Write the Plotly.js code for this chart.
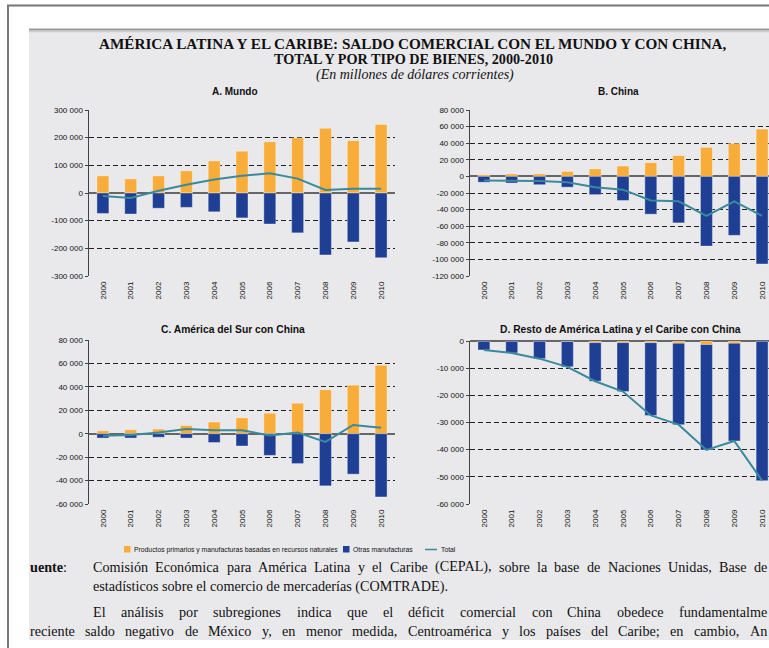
<!DOCTYPE html>
<html>
<head>
<meta charset="utf-8">
<script src="https://cdn.plot.ly/plotly-3.0.1.min.js"></script>
<style>
html,body{margin:0;padding:0;background:#fff;overflow:hidden;width:769px;height:648px;}
#chart{width:800px;height:648px;}
</style>
</head>
<body>
<div id="chart"></div>
<script>
// ---------------- DATA ----------------
var years = ['2000','2001','2002','2003','2004','2005','2006','2007','2008','2009','2010'];

// A. Mundo
var mundoPrim  = [62000, 51000, 62000, 80000, 116000, 151000, 185000, 199000, 234000, 189000, 248000];
var mundoOtras = [-74000, -76000, -55000, -52000, -68000, -90000, -112000, -144000, -224000, -177000, -234000];
var mundoTotal = [-11000, -18000, 8000, 30000, 49000, 62000, 71000, 52000, 11000, 15000, 15000];

// B. China
var chinaPrim  = [2000, 3000, 3000, 6000, 9000, 12500, 16500, 25000, 35000, 39500, 57000];
var chinaOtras = [-7000, -8000, -10000, -13000, -22000, -29000, -45500, -56000, -84000, -71000, -105500];
var chinaTotal = [-5000, -5500, -5500, -7000, -13000, -16000, -29000, -30000, -47500, -30000, -47500];

// C. América del Sur con China
var surPrim  = [2500, 3400, 4000, 7000, 10000, 13500, 17500, 26000, 37500, 41500, 58500];
var surOtras = [-3700, -3700, -3000, -3700, -7500, -10500, -18500, -25500, -44500, -34500, -54000];
var surTotal = [-1700, -1000, 1000, 4000, 3000, 3000, -1500, 1000, -7000, 7500, 5000];

// D. Resto de América Latina y el Caribe con China
var restoPrim  = [-100, -100, -100, -200, -600, -600, -600, -800, -1300, -800, -100];
var restoOtras = [-3200, -4300, -6400, -9300, -14200, -18000, -26800, -30000, -38800, -36000, -51300];
var restoTotal = [-3300, -4400, -6500, -9500, -14800, -18600, -27400, -30800, -40100, -36800, -51400];

// Tick values / labels
var ticksA = [-300000, -200000, -100000, 0, 100000, 200000, 300000];
var labelsA = ['-300 000', '-200 000', '-100 000', '0', '100 000', '200 000', '300 000'];
var ticksB = [-120000, -100000, -80000, -60000, -40000, -20000, 0, 20000, 40000, 60000, 80000];
var labelsB = ['-120 000', '-100 000', '-80 000', '-60 000', '-40 000', '-20 000', '0', '20 000', '40 000', '60 000', '80 000'];
var ticksC = [-60000, -40000, -20000, 0, 20000, 40000, 60000, 80000];
var labelsC = ['-60 000', '-40 000', '-20 000', '0', '20 000', '40 000', '60 000', '80 000'];
var ticksD = [-60000, -50000, -40000, -30000, -20000, -10000, 0];
var labelsD = ['-60 000', '-50 000', '-40 000', '-30 000', '-20 000', '-10 000', '0'];

var seriesNames = ['Productos primarios y manufacturas basadas en recursos naturales', 'Otras manufacturas', 'Total'];
var panelTitles = ['A. Mundo', 'B. China', 'C. América del Sur con China', 'D. Resto de América Latina y el Caribe con China'];

// ---------------- STYLE ----------------
var W = 800, H = 648;
function px(x){ return x / W; }
function py(y){ return 1 - y / H; }
var ORANGE = '#f8ac39', BLUE = '#1f3f95', TEAL = '#3a8a9c';
var sans = 'Liberation Sans, Arial, sans-serif';
var serif = 'Liberation Serif, Times New Roman, serif';

var panels = [
  {prim: mundoPrim, otras: mundoOtras, total: mundoTotal, ticks: ticksA, labels: labelsA, range: [-300000, 300000], x: [89, 395], y: [110, 276]},
  {prim: chinaPrim, otras: chinaOtras, total: chinaTotal, ticks: ticksB, labels: labelsB, range: [-120000, 80000], x: [470, 776], y: [110, 276]},
  {prim: surPrim, otras: surOtras, total: surTotal, ticks: ticksC, labels: labelsC, range: [-60000, 80000], x: [89, 395], y: [340, 504]},
  {prim: restoPrim, otras: restoOtras, total: restoTotal, ticks: ticksD, labels: labelsD, range: [-60000, 0], x: [470, 776], y: [341, 504]}
];

var data = [];
var layout = {
  width: W, height: H,
  margin: {l: 0, r: 0, t: 0, b: 0},
  paper_bgcolor: '#ffffff',
  plot_bgcolor: 'rgba(0,0,0,0)',
  barmode: 'relative',
  bargap: 0.57,
  showlegend: false,
  font: {family: sans, color: '#111'},
  shapes: [],
  annotations: []
};

panels.forEach(function(p, i){
  var n = i + 1;
  var xa = 'x' + (n === 1 ? '' : n), ya = 'y' + (n === 1 ? '' : n);
  data.push({type: 'bar', x: years, y: p.prim, name: seriesNames[0], xaxis: xa, yaxis: ya,
    marker: {color: ORANGE, line: {color: 'rgba(255,255,255,0.35)', width: 1}}});
  data.push({type: 'bar', x: years, y: p.otras, name: seriesNames[1], xaxis: xa, yaxis: ya,
    marker: {color: BLUE, line: {color: 'rgba(255,255,255,0.35)', width: 1}}});
  data.push({type: 'scatter', mode: 'lines', x: years, y: p.total, name: seriesNames[2], xaxis: xa, yaxis: ya,
    line: {color: TEAL, width: 2}});

  layout['xaxis' + (n === 1 ? '' : n)] = {
    domain: [px(p.x[0]), px(p.x[1])], anchor: ya, type: 'category',
    tickangle: -90, tickfont: {family: sans, size: 8, color: '#111'},
    showline: false, showgrid: false, zeroline: false, ticks: '', ticklabelstandoff: 3,
    fixedrange: true
  };
  layout['yaxis' + (n === 1 ? '' : n)] = {
    domain: [py(p.y[1]), py(p.y[0])], anchor: xa, range: p.range,
    tickvals: p.ticks, ticktext: p.labels,
    tickfont: {family: sans, size: 8, color: '#111'},
    showline: true, linecolor: '#444', linewidth: 1.5,
    ticks: 'outside', ticklen: 3, tickcolor: '#444', tickwidth: 1,
    showgrid: true, gridcolor: '#222', gridwidth: 1, griddash: '5px,3px',
    zeroline: true, zerolinecolor: '#666', zerolinewidth: 2,
    fixedrange: true
  };
});

// background page panel & frame
layout.shapes.push({type: 'rect', xref: 'paper', yref: 'paper', x0: px(29), x1: px(800), y0: py(640), y1: py(29),
  fillcolor: '#e9e9eb', line: {width: 0}, layer: 'below'});
layout.shapes.push({type: 'line', xref: 'paper', yref: 'paper', x0: px(29), x1: px(800), y0: py(29.5), y1: py(29.5),
  line: {color: '#999', width: 2}, layer: 'below'});
layout.shapes.push({type: 'line', xref: 'paper', yref: 'paper', x0: px(29), x1: px(800), y0: py(31.5), y1: py(31.5),
  line: {color: '#ccc', width: 1.5}, layer: 'below'});
layout.shapes.push({type: 'line', xref: 'paper', yref: 'paper', x0: px(7), x1: px(800), y0: py(5.5), y1: py(5.5),
  line: {color: '#777', width: 2}, layer: 'below'});
layout.shapes.push({type: 'line', xref: 'paper', yref: 'paper', x0: px(8), x1: px(8), y0: py(5), y1: py(648),
  line: {color: '#777', width: 2}, layer: 'below'});

function ann(text, x, y, opts){
  var a = {text: text, x: px(x), y: py(y), xref: 'paper', yref: 'paper', showarrow: false,
    xanchor: 'center', yanchor: 'middle', font: {family: sans, size: 9, color: '#111'}};
  for (var k in opts) a[k] = opts[k];
  layout.annotations.push(a);
}

// legend (keys + labels)
var legFont = {family: sans, size: 6.8, color: '#111'};
layout.shapes.push({type: 'rect', xref: 'paper', yref: 'paper', x0: px(124), x1: px(130.5), y0: py(552.5), y1: py(546),
  fillcolor: ORANGE, line: {width: 0}});
ann(seriesNames[0], 132, 549.5, {xanchor: 'left', font: legFont});
layout.shapes.push({type: 'rect', xref: 'paper', yref: 'paper', x0: px(343), x1: px(349.5), y0: py(552.5), y1: py(546),
  fillcolor: BLUE, line: {width: 0}});
ann(seriesNames[1], 351, 549.5, {xanchor: 'left', font: legFont});
layout.shapes.push({type: 'line', xref: 'paper', yref: 'paper', x0: px(425), x1: px(437), y0: py(549.5), y1: py(549.5),
  line: {color: TEAL, width: 1.5}});
ann(seriesNames[2], 439, 549.5, {xanchor: 'left', font: legFont});

// main titles
ann('<b>AMÉRICA LATINA Y EL CARIBE: SALDO COMERCIAL CON EL MUNDO Y CON CHINA,</b>', 413, 44, {font: {family: serif, size: 15.2, color: '#111'}, borderpad: 0});
ann('<b>TOTAL Y POR TIPO DE BIENES, 2000-2010</b>', 414, 58.5, {font: {family: serif, size: 14.2, color: '#111'}, borderpad: 0});
ann('<i>(En millones de dólares corrientes)</i>', 415, 75, {font: {family: serif, size: 14, color: '#111'}, borderpad: 0});

// panel titles
ann('<b>' + panelTitles[0] + '</b>', 235, 92, {font: {family: sans, size: 10, color: '#111'}});
ann('<b>' + panelTitles[1] + '</b>', 618, 92, {font: {family: sans, size: 10, color: '#111'}});
ann('<b>' + panelTitles[2] + '</b>', 233, 329, {font: {family: sans, size: 10.3, color: '#111'}});
ann('<b>' + panelTitles[3] + '</b>', 620, 329, {font: {family: sans, size: 10.3, color: '#111'}});

// source / body text (justified lines laid out word by word)
var FS = 14.2;
var fs = {family: serif, size: FS, color: '#111'};
var ctx = document.createElement('canvas').getContext('2d');
ctx.font = FS + 'px "Liberation Serif"';
function justify(text, x0, x1, y, ya){
  var w = text.split(' ');
  var widths = w.map(function(s){ return ctx.measureText(s).width; });
  var sum = widths.reduce(function(a, b){ return a + b; }, 0);
  var gap = (x1 - x0 - sum) / (w.length - 1);
  var x = x0;
  w.forEach(function(s, i){
    ann(s, x, y, {xanchor: 'left', yanchor: ya, font: fs, borderpad: 0});
    x += widths[i] + gap;
  });
}
ann('<b>uente</b>:', 29, 576, {xanchor: 'left', yanchor: 'bottom', font: fs, borderpad: 0});
justify('Comisión Económica para América Latina y el Caribe (CEPAL), sobre la base de Naciones Unidas, Base de', 92, 766, 576, 'bottom');
ann('estadísticos sobre el comercio de mercaderías (COMTRADE).', 92, 577, {xanchor: 'left', yanchor: 'top', font: fs, borderpad: 0});
justify('El análisis por subregiones indica que el déficit comercial con China obedece fundamentalme', 92, 766, 621, 'bottom');
justify('reciente saldo negativo de México y, en menor medida, Centroamérica y los países del Caribe; en cambio, An', 29, 766, 622, 'top');

Plotly.newPlot('chart', data, layout, {staticPlot: true, displayModeBar: false});
</script>
</body>
</html>
